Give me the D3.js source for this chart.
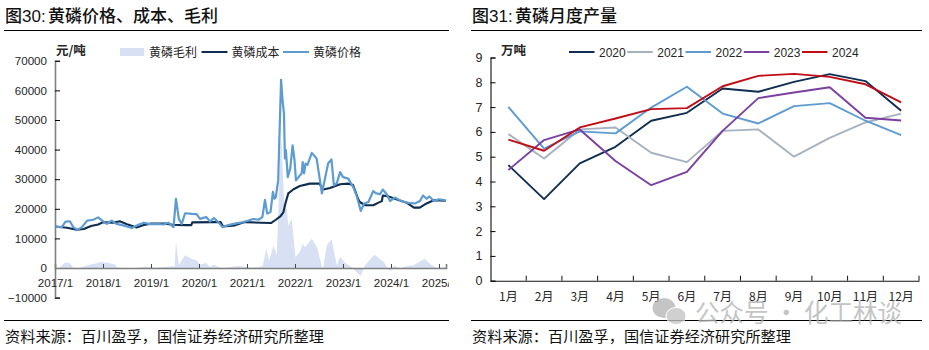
<!DOCTYPE html>
<html>
<head>
    <meta charset="utf-8">
    <title>黄磷价格与月度产量</title>
    <script src="https://d3js.org/d3.v7.min.js"></script>
    <style>
        body { margin: 0; background: #fff; }
        text { font-family: "Liberation Sans", "Noto Sans CJK SC", sans-serif; fill: #262626; }
        .cjk { font-family: "Noto Sans CJK SC", sans-serif; }
        .title { font-size: 17px; font-weight: 500; fill: #111; }
        .foot { font-size: 15.2px; fill: #111; }
        .unit { font-size: 12.5px; font-weight: 700; }
        .legend { font-size: 12px; }
        .tick text { font-size: 11.6px; }
        .line { fill: none; stroke-linejoin: round; }
    </style>
</head>
<body>
<svg id="chart" width="929" height="350"></svg>
<script>
    // 图30 data (decimal years)
    const priceYears = [2017, 2017.14, 2017.22, 2017.31, 2017.38, 2017.47, 2017.56, 2017.67, 2017.8, 2017.9, 2018.01, 2018.08, 2018.18, 2018.28, 2018.42, 2018.6, 2018.74, 2018.85, 2018.98, 2019.12, 2019.26, 2019.36, 2019.47, 2019.52, 2019.58, 2019.64, 2019.71, 2019.85, 2019.95, 2020.02, 2020.15, 2020.23, 2020.31, 2020.4, 2020.49, 2020.61, 2020.75, 2020.89, 2021, 2021.13, 2021.24, 2021.32, 2021.375, 2021.42, 2021.49, 2021.54, 2021.57, 2021.6, 2021.65, 2021.71, 2021.74, 2021.77, 2021.79, 2021.81, 2021.85, 2021.9, 2021.95, 2021.99, 2022.02, 2022.07, 2022.14, 2022.16, 2022.19, 2022.22, 2022.26, 2022.35, 2022.45, 2022.51, 2022.56, 2022.6, 2022.69, 2022.76, 2022.81, 2022.87, 2022.94, 2023, 2023.11, 2023.21, 2023.28, 2023.32, 2023.37, 2023.44, 2023.53, 2023.63, 2023.68, 2023.77, 2023.83, 2023.91, 2023.98, 2024.08, 2024.22, 2024.36, 2024.5, 2024.6, 2024.67, 2024.74, 2024.8, 2024.89, 2025, 2025.14];
    const priceValues = [14000, 13800, 15700, 15800, 13800, 12900, 13800, 16000, 16300, 17100, 15700, 14900, 16000, 14900, 14400, 13500, 14600, 15300, 14800, 14900, 14700, 15300, 13800, 23400, 16600, 14900, 18500, 18300, 18200, 16600, 17200, 15700, 16900, 15500, 13800, 14500, 15000, 15400, 15900, 16550, 16300, 17200, 23000, 18400, 18900, 25700, 23400, 23900, 29600, 63600, 56600, 52200, 37000, 39800, 30700, 33600, 41400, 36400, 29600, 30600, 32000, 35800, 32000, 35300, 34800, 38900, 37000, 30700, 25200, 28300, 35300, 36700, 27900, 28600, 32400, 30700, 30200, 27400, 24600, 22300, 19300, 21800, 22300, 26000, 25300, 24900, 26500, 24900, 22600, 23800, 22600, 22000, 21800, 22600, 24500, 23400, 24200, 22600, 23200, 22900];
    const costYears = [2017, 2017.25, 2017.45, 2017.6, 2017.75, 2017.9, 2018, 2018.2, 2018.35, 2018.5, 2018.7, 2018.85, 2019, 2019.3, 2019.45, 2019.7, 2019.84, 2019.86, 2020.3, 2020.45, 2020.5, 2020.75, 2020.95, 2021.3, 2021.5, 2021.6, 2021.7, 2021.76, 2021.8, 2021.86, 2021.97, 2022.1, 2022.31, 2022.51, 2022.59, 2022.73, 2022.94, 2023.11, 2023.21, 2023.31, 2023.35, 2023.46, 2023.63, 2023.73, 2023.81, 2023.83, 2023.95, 2024.08, 2024.33, 2024.48, 2024.6, 2024.74, 2024.89, 2025.14];
    const costValues = [14000, 13600, 12900, 13200, 14200, 14700, 15500, 15300, 15800, 14800, 13700, 14500, 15000, 15000, 14600, 14500, 14500, 15400, 15500, 15500, 14000, 14400, 15500, 15300, 15200, 16300, 17500, 18900, 21800, 25200, 26600, 27700, 28500, 28500, 26500, 27000, 28300, 28500, 28000, 23500, 22300, 21200, 21200, 22000, 22600, 24500, 24200, 23400, 22000, 20400, 20400, 21800, 22900, 22700];
    const marginYears = [2017, 2017.1, 2017.2, 2017.3, 2017.38, 2017.5, 2017.6, 2017.7, 2017.85, 2017.95, 2018.1, 2018.25, 2018.3, 2018.5, 2018.7, 2018.9, 2019.1, 2019.3, 2019.45, 2019.49, 2019.52, 2019.58, 2019.71, 2019.85, 2019.95, 2020.02, 2020.15, 2020.23, 2020.31, 2020.4, 2020.5, 2020.65, 2020.8, 2020.95, 2021, 2021.1, 2021.25, 2021.33, 2021.4, 2021.46, 2021.55, 2021.62, 2021.71, 2021.78, 2021.83, 2021.86, 2021.93, 2022.01, 2022.1, 2022.16, 2022.21, 2022.35, 2022.46, 2022.58, 2022.66, 2022.76, 2022.87, 2022.94, 2023.04, 2023.18, 2023.27, 2023.37, 2023.46, 2023.65, 2023.84, 2023.98, 2024.05, 2024.19, 2024.33, 2024.47, 2024.7, 2024.84, 2024.95, 2025.14];
    const marginValues = [0, 200, 1800, 1800, 200, 0, 500, 1000, 1500, 2000, 1800, 1200, 100, 0, 0, 500, 100, 300, 600, 300, 8900, 1000, 4300, 3000, 2600, 1200, 1700, 300, 1200, 300, 0, 300, 700, 500, 300, 200, 300, 800, 6500, 2500, 7500, 4500, 45000, 20000, 20000, 14400, 16600, 3700, 5400, 8200, 7000, 9900, 7000, -800, 7600, 9700, 900, 3700, 1800, 300, -1300, -2700, 900, 4500, 2200, -1100, 700, 0, 700, 900, 3100, 1100, 0, 300];
    const yearTicks = [2017, 2018, 2019, 2020, 2021, 2022, 2023, 2024, 2025];
    const priceTicks = [-10000, 0, 10000, 20000, 30000, 40000, 50000, 60000, 70000];
    const leftLegend = ["黄磷毛利", "黄磷成本", "黄磷价格"];

    // 图31 data
    const months = ["1月", "2月", "3月", "4月", "5月", "6月", "7月", "8月", "9月", "10月", "11月", "12月"];
    const output2020 = [4.66, 3.29, 4.73, 5.4, 6.45, 6.77, 7.75, 7.62, 8.02, 8.33, 8.05, 6.85];
    const output2021 = [5.91, 4.93, 6.1, 6.18, 5.16, 4.78, 6.04, 6.1, 5.0, 5.76, 6.38, 6.74];
    const output2022 = [7.01, 5.33, 6.02, 5.94, 6.98, 7.82, 6.74, 6.34, 7.04, 7.16, 6.45, 5.87];
    const output2023 = [4.46, 5.67, 6.1, 4.83, 3.85, 4.39, 6.04, 7.36, 7.59, 7.8, 6.57, 6.46];
    const output2024 = [5.69, 5.24, 6.18, 6.54, 6.92, 6.96, 7.84, 8.26, 8.34, 8.22, 7.92, 7.19];
    const outputTicks = [0, 1, 2, 3, 4, 5, 6, 7, 8, 9];

    const navy = "#0e2d50", lightBlue = "#5d9bd0", fillBlue = "#d7e1f3";
    const svg = d3.select("#chart");

    // titles, rules and source lines
    const sourceText = "资料来源\uFF1A百川盈孚\uFF0C国信证券经济研究所整理";
    const panels = [
        {x0: 4, x1: 449, fig: "图30:", figX: 5, title: "黄磷价格、成本、毛利", titleX: 48, footX: 5},
        {x0: 471, x1: 922, fig: "图31:", figX: 472, title: "黄磷月度产量", titleX: 515, footX: 472}
    ];
    panels.forEach(p => {
        svg.append("text").attr("class", "title").attr("x", p.figX).attr("y", 22).text(p.fig);
        svg.append("text").attr("class", "title cjk").attr("x", p.titleX).attr("y", 22).text(p.title);
        svg.append("line").attr("x1", p.x0).attr("x2", p.x1).attr("y1", 30.5).attr("y2", 30.5).attr("stroke", "#000");
        svg.append("line").attr("x1", p.x0).attr("x2", p.x1).attr("y1", 320.5).attr("y2", 320.5).attr("stroke", "#000");
        svg.append("text").attr("class", "foot cjk").attr("x", p.footX).attr("y", 342).text(sourceText);
    });

    // left chart
    const x1 = d3.scaleLinear().domain([2017, 2025.146]).range([55, 446]);
    const y1 = d3.scaleLinear().domain([-10000, 70000]).range([297.6, 60.8]);

    svg.append("defs").append("clipPath").attr("id", "leftClip")
        .append("rect").attr("x", 0).attr("y", -100).attr("width", 449).attr("height", 350);

    const area = d3.area()
        .x((d, i) => x1(marginYears[i]))
        .y0(y1(0))
        .y1(d => y1(d));
    svg.append("path").datum(marginValues).attr("fill", fillBlue).attr("d", area);

    const yAxis1 = svg.append("g")
        .attr("transform", `translate(${x1(2017)},0)`)
        .call(d3.axisRight(y1).tickValues(priceTicks).tickSize(5).tickFormat(d3.format("d")));
    yAxis1.select(".domain").attr("stroke", "#7f7f7f").attr("stroke-width", 1.6);
    yAxis1.selectAll("text").attr("x", -8).attr("text-anchor", "end").text(d => d < 0 ? "\u2212" + (-d) : d);

    const xAxis1 = svg.append("g")
        .attr("clip-path", "url(#leftClip)")
        .attr("transform", `translate(0,${y1(0)})`)
        .call(d3.axisTop(x1).tickValues(yearTicks).tickSize(4).tickFormat(d => d + "/1"));
    xAxis1.select(".domain").attr("stroke", "#7f7f7f").attr("stroke-width", 1.6);
    xAxis1.selectAll("text").attr("y", 19).attr("text-anchor", "middle");
    xAxis1.selectAll("line").attr("stroke", "#444");
    xAxis1.select(".tick line").attr("stroke", "none");

    const priceLine = d3.line().x((d, i) => x1(priceYears[i])).y(d => y1(d));
    const costLine = d3.line().x((d, i) => x1(costYears[i])).y(d => y1(d));
    svg.append("path").datum(costValues).attr("class", "line").attr("stroke", navy).attr("stroke-width", 2.1).attr("d", costLine);
    svg.append("path").datum(priceValues).attr("class", "line").attr("stroke", lightBlue).attr("stroke-width", 2.2).attr("d", priceLine);

    svg.append("text").attr("class", "unit cjk").attr("x", 56).attr("y", 55).text("元/吨");

    // left legend
    const legendX1 = d3.scalePoint().domain(leftLegend).range([120, 283]);
    leftLegend.forEach((name, i) => {
        const lx = legendX1(name);
        if (i === 0) {
            svg.append("rect").attr("x", lx).attr("y", 48).attr("width", 24).attr("height", 8).attr("fill", fillBlue);
        } else {
            svg.append("line").attr("x1", lx).attr("x2", lx + 26).attr("y1", 52).attr("y2", 52)
                .attr("stroke", i === 1 ? navy : lightBlue).attr("stroke-width", 2);
        }
        svg.append("text").attr("class", "legend cjk").attr("x", lx + (i === 0 ? 29 : 30)).attr("y", 56.5).text(name);
    });

    // right chart
    const x2 = d3.scaleBand().domain(months).range([490.5, 919]);
    const y2 = d3.scaleLinear().domain([0, 9]).range([280.7, 57.5]);

    const series2 = [
        {name: "2020", values: output2020, color: navy},
        {name: "2021", values: output2021, color: "#a6b2bf"},
        {name: "2022", values: output2022, color: lightBlue},
        {name: "2023", values: output2023, color: "#7a3f9f"},
        {name: "2024", values: output2024, color: "#c00d16"}
    ];

    const yAxis2 = svg.append("g")
        .attr("transform", "translate(490.5,0)")
        .call(d3.axisRight(y2).tickValues(outputTicks).tickSize(5).tickFormat(d3.format("d")));
    yAxis2.select(".domain").attr("stroke", "#111").attr("stroke-width", 1.1);
    yAxis2.selectAll("text").attr("x", -8).attr("text-anchor", "end").style("font-size", "12.5px");

    const xAxis2 = svg.append("g")
        .attr("transform", `translate(0,${y2(0)})`)
        .call(d3.axisTop(x2).tickSize(0));
    xAxis2.select(".domain").attr("stroke", "#111").attr("stroke-width", 1.1);
    xAxis2.selectAll("text").attr("class", "cjk").attr("y", 20).style("font-size", "12px");
    // tick marks sit on the band edges
    months.forEach(m => {
        xAxis2.append("line").attr("x1", x2(m) + x2.bandwidth()).attr("x2", x2(m) + x2.bandwidth())
            .attr("y1", 0).attr("y2", -5).attr("stroke", "#111");
    });

    const outputLine = d3.line()
        .x((d, i) => x2(months[i]) + x2.bandwidth() / 2)
        .y(d => y2(d));
    series2.forEach(s => {
        svg.append("path").datum(s.values).attr("class", "line").attr("stroke", s.color)
            .attr("stroke-width", 1.9).attr("d", outputLine);
    });

    svg.append("text").attr("class", "unit cjk").attr("x", 501).attr("y", 55).text("万吨");

    // right legend
    const legendX2 = d3.scalePoint().domain(series2.map(s => s.name)).range([569, 802]);
    series2.forEach(s => {
        const lx = legendX2(s.name);
        svg.append("line").attr("x1", lx).attr("x2", lx + 25.5).attr("y1", 52).attr("y2", 52)
            .attr("stroke", s.color).attr("stroke-width", 2);
        svg.append("text").attr("class", "legend").attr("x", lx + 30).attr("y", 56.5).text(s.name);
    });

    // watermark
    const mark = svg.append("g").attr("opacity", 0.78);
    mark.append("ellipse").attr("cx", 664).attr("cy", 308).attr("rx", 11.5).attr("ry", 10).attr("fill", "#b5b5b5");
    mark.append("ellipse").attr("cx", 676).attr("cy", 316).attr("rx", 10).attr("ry", 8.5).attr("fill", "#c4c4c4").attr("stroke", "#fff");
    mark.append("text").attr("class", "cjk").attr("x", 695).attr("y", 322)
        .style("font-size", "24.5px").style("fill", "#b4b4b4").text("公众号 · 化工林谈");
</script>
</body>
</html>
